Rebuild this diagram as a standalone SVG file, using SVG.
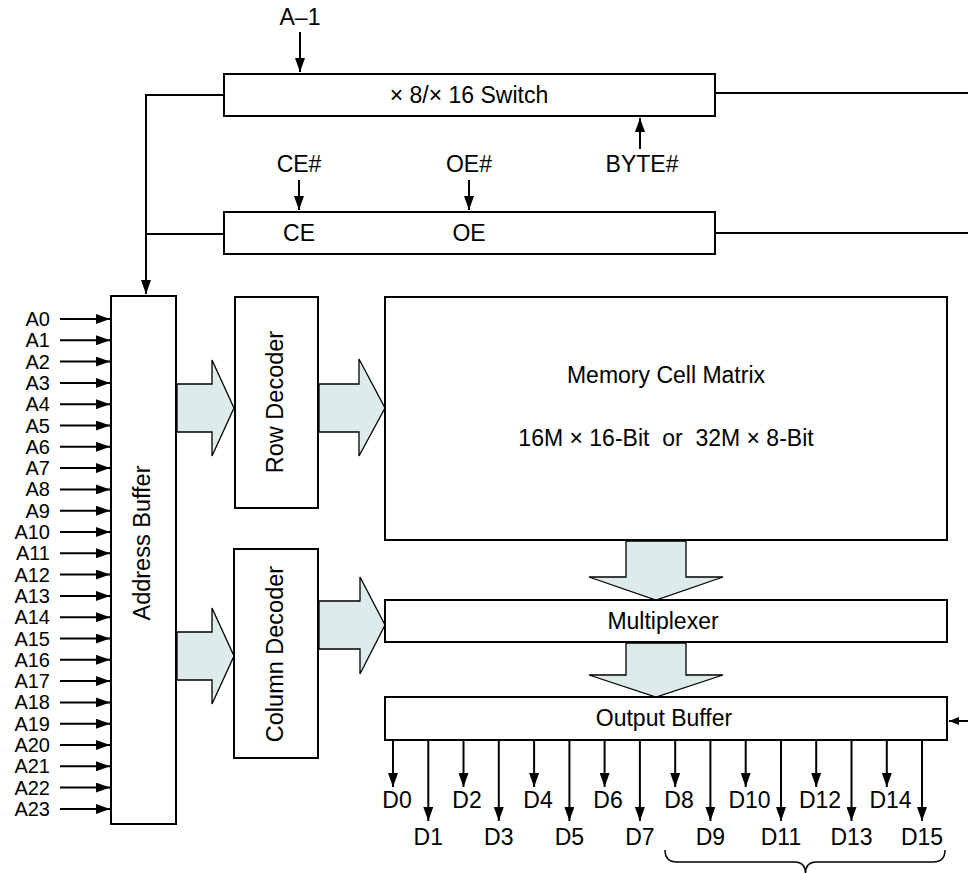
<svg xmlns="http://www.w3.org/2000/svg" width="968" height="873" viewBox="0 0 968 873">
<defs>
<style>
text{font-family:"Liberation Sans",Arial,sans-serif;font-size:23px;fill:#000}
.a{font-size:20px}
.v{font-size:23.5px}
.box{fill:#fff;stroke:#000;stroke-width:2}
.ln{fill:none;stroke:#000;stroke-width:2}
.big{fill:#DDEBEA;stroke:#000;stroke-width:1.3;stroke-linejoin:miter}
.m{text-anchor:middle}
.e{text-anchor:end}
</style>
<marker id="ah" markerUnits="userSpaceOnUse" markerWidth="14" markerHeight="10" refX="14" refY="5" orient="auto">
<path d="M0,0 L14,5 L0,10 z" fill="#000"/>
</marker>
<marker id="ahs" markerUnits="userSpaceOnUse" markerWidth="10" markerHeight="8" refX="10" refY="4" orient="auto">
<path d="M0,0 L10,4 L0,8 z" fill="#000"/>
</marker>
</defs>

<g id="connectors">
<path class="ln" d="M300,32 V72" marker-end="url(#ah)"/>
<path class="ln" d="M640,149 V118" marker-end="url(#ah)"/>
<path class="ln" d="M299,180 V210" marker-end="url(#ah)"/>
<path class="ln" d="M469,180 V210" marker-end="url(#ah)"/>
<path class="ln" d="M224,95 H146 V294" marker-end="url(#ah)"/>
<path class="ln" d="M224,234 H146"/>
<path class="ln" d="M715,93 H968"/>
<path class="ln" d="M715,233 H968"/>
<path class="ln" d="M968,721 H949" marker-end="url(#ahs)"/>
<g id="addr-lines">
<path class="ln" d="M60,319 H110" marker-end="url(#ah)"/>
<path class="ln" d="M60,340.3 H110" marker-end="url(#ah)"/>
<path class="ln" d="M60,361.6 H110" marker-end="url(#ah)"/>
<path class="ln" d="M60,382.9 H110" marker-end="url(#ah)"/>
<path class="ln" d="M60,404.2 H110" marker-end="url(#ah)"/>
<path class="ln" d="M60,425.5 H110" marker-end="url(#ah)"/>
<path class="ln" d="M60,446.8 H110" marker-end="url(#ah)"/>
<path class="ln" d="M60,468.1 H110" marker-end="url(#ah)"/>
<path class="ln" d="M60,489.4 H110" marker-end="url(#ah)"/>
<path class="ln" d="M60,510.7 H110" marker-end="url(#ah)"/>
<path class="ln" d="M60,532 H110" marker-end="url(#ah)"/>
<path class="ln" d="M60,553.3 H110" marker-end="url(#ah)"/>
<path class="ln" d="M60,574.6 H110" marker-end="url(#ah)"/>
<path class="ln" d="M60,595.9 H110" marker-end="url(#ah)"/>
<path class="ln" d="M60,617.2 H110" marker-end="url(#ah)"/>
<path class="ln" d="M60,638.5 H110" marker-end="url(#ah)"/>
<path class="ln" d="M60,659.8 H110" marker-end="url(#ah)"/>
<path class="ln" d="M60,681.1 H110" marker-end="url(#ah)"/>
<path class="ln" d="M60,702.4 H110" marker-end="url(#ah)"/>
<path class="ln" d="M60,723.7 H110" marker-end="url(#ah)"/>
<path class="ln" d="M60,745 H110" marker-end="url(#ah)"/>
<path class="ln" d="M60,766.3 H110" marker-end="url(#ah)"/>
<path class="ln" d="M60,787.6 H110" marker-end="url(#ah)"/>
<path class="ln" d="M60,808.9 H110" marker-end="url(#ah)"/>
</g>
<g id="data-lines">
<path class="ln" d="M393,740 V787" marker-end="url(#ah)"/>
<path class="ln" d="M428.3,740 V821" marker-end="url(#ah)"/>
<path class="ln" d="M463.5,740 V787" marker-end="url(#ah)"/>
<path class="ln" d="M498.8,740 V821" marker-end="url(#ah)"/>
<path class="ln" d="M534.1,740 V787" marker-end="url(#ah)"/>
<path class="ln" d="M569.4,740 V821" marker-end="url(#ah)"/>
<path class="ln" d="M604.6,740 V787" marker-end="url(#ah)"/>
<path class="ln" d="M639.9,740 V821" marker-end="url(#ah)"/>
<path class="ln" d="M675.2,740 V787" marker-end="url(#ah)"/>
<path class="ln" d="M710.4,740 V821" marker-end="url(#ah)"/>
<path class="ln" d="M745.7,740 V787" marker-end="url(#ah)"/>
<path class="ln" d="M781,740 V821" marker-end="url(#ah)"/>
<path class="ln" d="M816.2,740 V787" marker-end="url(#ah)"/>
<path class="ln" d="M851.5,740 V821" marker-end="url(#ah)"/>
<path class="ln" d="M886.8,740 V787" marker-end="url(#ah)"/>
<path class="ln" d="M922,740 V821" marker-end="url(#ah)"/>
</g>
<g id="bus-arrows">
<polygon class="big" points="177,384 212,384 212,360 234,408 212,456 212,432 177,432"/>
<polygon class="big" points="319,384 359,384 359,359 385,408 359,456 359,432 319,432"/>
<polygon class="big" points="177,632 212,632 212,608 234,656 212,704 212,680 177,680"/>
<polygon class="big" points="319,601 360,601 360,577 385,625 360,674 360,649 319,649"/>
<polygon class="big" points="626,541 686,541 686,577 723,577 656,600 589,577 626,577"/>
<polygon class="big" points="626,643 686,643 686,675 723,675 656,697 589,675 626,675"/>
</g>
<path id="brace" class="ln" style="stroke-width:1.5" d="M665,850 Q665,862 677,862 L795,862 Q805,862 805.5,873 Q806,862 816,862 L933,862 Q945,862 945,850"/>
</g>

<g id="switch">
<rect class="box" x="224" y="74" width="491" height="42"/>
<text class="m" x="469" y="103">× 8/× 16 Switch</text>
</g>
<g id="ce-oe">
<rect class="box" x="224" y="212" width="491" height="42"/>
<text class="m" x="299" y="241">CE</text>
<text class="m" x="469" y="241">OE</text>
</g>
<g id="address-buffer">
<rect class="box" x="111" y="296" width="65" height="528"/>
<text class="m v" x="150" y="543" transform="rotate(-90 150 543)">Address Buffer</text>
</g>
<g id="row-decoder">
<rect class="box" x="235" y="297" width="83" height="211"/>
<text class="m v" x="283" y="402" transform="rotate(-90 283 402)">Row Decoder</text>
</g>
<g id="column-decoder">
<rect class="box" x="234" y="549" width="84" height="209"/>
<text class="m v" x="283" y="654" transform="rotate(-90 283 654)">Column Decoder</text>
</g>
<g id="memory-matrix">
<rect class="box" x="385" y="297" width="562" height="243"/>
<text class="m" x="666" y="383">Memory Cell Matrix</text>
<text class="m" x="666" y="446" xml:space="preserve">16M × 16-Bit  or  32M × 8-Bit</text>
</g>
<g id="multiplexer">
<rect class="box" x="385" y="600" width="562" height="42"/>
<text class="m" x="663" y="629">Multiplexer</text>
</g>
<g id="output-buffer">
<rect class="box" x="385" y="697" width="562" height="43"/>
<text class="m" x="664" y="726">Output Buffer</text>
</g>

<g id="labels">
<text class="m" x="300" y="25">A–1</text>
<text class="m" x="299" y="172">CE#</text>
<text class="m" x="469" y="172">OE#</text>
<text class="m" x="642" y="172">BYTE#</text>
</g>
<g id="addr-labels" class="a">
<text class="e a" x="50" y="326">A0</text>
<text class="e a" x="50" y="347.3">A1</text>
<text class="e a" x="50" y="368.6">A2</text>
<text class="e a" x="50" y="389.9">A3</text>
<text class="e a" x="50" y="411.2">A4</text>
<text class="e a" x="50" y="432.5">A5</text>
<text class="e a" x="50" y="453.8">A6</text>
<text class="e a" x="50" y="475.1">A7</text>
<text class="e a" x="50" y="496.4">A8</text>
<text class="e a" x="50" y="517.7">A9</text>
<text class="e a" x="50" y="539">A10</text>
<text class="e a" x="50" y="560.3">A11</text>
<text class="e a" x="50" y="581.6">A12</text>
<text class="e a" x="50" y="602.9">A13</text>
<text class="e a" x="50" y="624.2">A14</text>
<text class="e a" x="50" y="645.5">A15</text>
<text class="e a" x="50" y="666.8">A16</text>
<text class="e a" x="50" y="688.1">A17</text>
<text class="e a" x="50" y="709.4">A18</text>
<text class="e a" x="50" y="730.7">A19</text>
<text class="e a" x="50" y="752">A20</text>
<text class="e a" x="50" y="773.3">A21</text>
<text class="e a" x="50" y="794.6">A22</text>
<text class="e a" x="50" y="815.9">A23</text>
</g>
<g id="data-labels">
<text class="m" x="397" y="808">D0</text>
<text class="m" x="428.3" y="845">D1</text>
<text class="m" x="467" y="808">D2</text>
<text class="m" x="498.8" y="845">D3</text>
<text class="m" x="538" y="808">D4</text>
<text class="m" x="569.4" y="845">D5</text>
<text class="m" x="608" y="808">D6</text>
<text class="m" x="639.9" y="845">D7</text>
<text class="m" x="679" y="808">D8</text>
<text class="m" x="710.4" y="845">D9</text>
<text class="m" x="749.5" y="808">D10</text>
<text class="m" x="781" y="845">D11</text>
<text class="m" x="820" y="808">D12</text>
<text class="m" x="851.5" y="845">D13</text>
<text class="m" x="890.5" y="808">D14</text>
<text class="m" x="922" y="845">D15</text>
</g>
</svg>
